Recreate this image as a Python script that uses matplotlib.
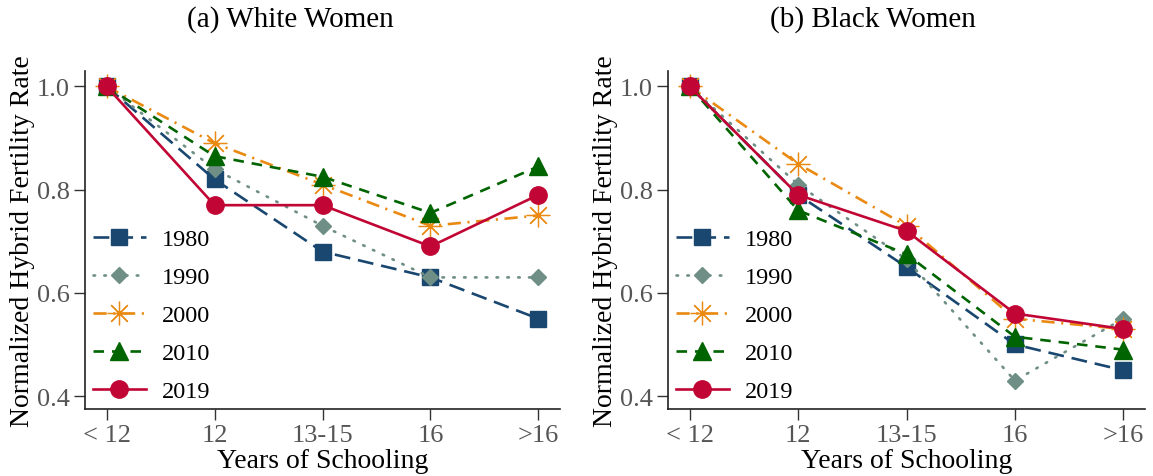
import matplotlib.pyplot as plt
import numpy as np

plt.rcParams['font.family'] = ['Liberation Serif', 'DejaVu Serif']

categories = ["< 12", "12", "13-15", "16", ">16"]
years = ["1980", "1990", "2000", "2010", "2019"]

white_1980 = [1.0, 0.82, 0.68, 0.63, 0.55]
white_1990 = [1.0, 0.84, 0.73, 0.63, 0.63]
white_2000 = [1.0, 0.89, 0.81, 0.73, 0.75]
white_2010 = [1.0, 0.865, 0.825, 0.755, 0.845]
white_2019 = [1.0, 0.77, 0.77, 0.69, 0.79]

black_1980 = [1.0, 0.79, 0.65, 0.50, 0.45]
black_1990 = [1.0, 0.81, 0.665, 0.43, 0.55]
black_2000 = [1.0, 0.85, 0.73, 0.55, 0.53]
black_2010 = [1.0, 0.76, 0.675, 0.515, 0.49]
black_2019 = [1.0, 0.79, 0.72, 0.56, 0.53]

white = [white_1980, white_1990, white_2000, white_2010, white_2019]
black = [black_1980, black_1990, black_2000, black_2010, black_2019]

styles = [
    dict(color='#1a476f', dashes=(6, 3), marker='s', ms=11.5),
    dict(color='#6f8f86', dashes=(0.6, 3.5), dash_capstyle='round', marker='D', ms=8),
    dict(color='#ea8a12', dashes=(5, 2.5, 0.8, 2.5), marker=(8, 2, 0), ms=17, mew=0.9),
    dict(color='#006400', dashes=(4, 3), marker='^', ms=12.5),
    dict(color='#c10534', linestyle='-', marker='o', ms=12.5),
]

fig = plt.figure(figsize=(11.53, 4.77), dpi=100)
ax1 = fig.add_axes([85/1153, 1-410/477, 475/1153, 338/477])
ax2 = fig.add_axes([668/1153, 1-410/477, 477/1153, 338/477])

x = np.arange(len(categories))
for ax, data in [(ax1, white), (ax2, black)]:
    for yr, vals, st in zip(years, data, styles):
        ax.plot(x, vals, lw=1.9, label=yr, **st)
    ax.set_xlim(-0.2, 4.2)
    ax.set_ylim(0.375, 1.03)
    ax.set_yticks([0.4, 0.6, 0.8, 1.0])
    ax.set_yticklabels(["0.4", "0.6", "0.8", "1.0"])
    ax.set_xticks(x)
    ax.set_xticklabels(categories)
    ax.tick_params(labelsize=19, labelcolor='#555555', length=8, width=1.0, color='#333333', pad=3)
    for s in ['top', 'right']:
        ax.spines[s].set_visible(False)
    for s in ['left', 'bottom']:
        ax.spines[s].set_linewidth(1.2)
        ax.spines[s].set_color('#222222')
    ax.set_xlabel("Years of Schooling", fontsize=20, labelpad=1)
    ax.set_ylabel("Normalized Hybrid Fertility Rate", fontsize=20, labelpad=1)
    ax.legend(loc='lower left', bbox_to_anchor=(-0.03, -0.045), frameon=False, fontsize=17.5,
              handlelength=2.2, handletextpad=0.65, labelspacing=0.66)

fig.text(290/1153, 1-20/477, "(a) White Women", ha='center', va='center', fontsize=21)
fig.text(873/1153, 1-20/477, "(b) Black Women", ha='center', va='center', fontsize=21)

fig.savefig("out.png", dpi=100)
